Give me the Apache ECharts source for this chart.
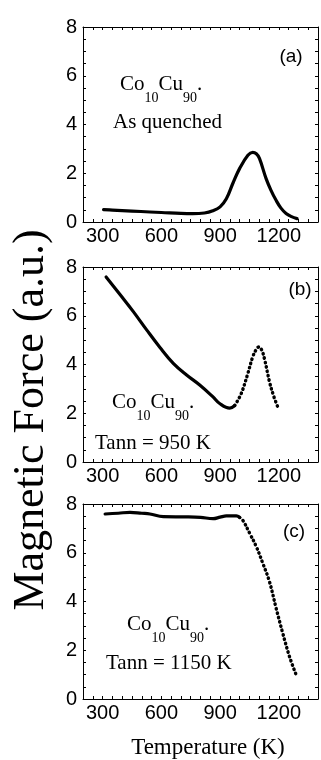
<!DOCTYPE html>
<html>
<head>
<meta charset="utf-8">
<script src="https://cdn.jsdelivr.net/npm/echarts@6/dist/echarts.min.js"></script>
<style>
html,body{margin:0;padding:0;background:#fff;}
#chart{width:321px;height:760px;}
</style>
</head>
<body>
<div id="chart"></div>
<script>
// ---- data (Temperature K, Magnetic Force a.u.) ----
const xTickLabels = [300, 600, 900, 1200];
const yTickLabels = [0, 2, 4, 6, 8];

const panelA_solid = [[305,0.51],[350,0.49],[450,0.45],[542,0.41],[600,0.39],[700,0.35],[760,0.34],[820,0.37],[863,0.46],[900,0.62],[932,0.95],[966,1.6],[1000,2.2],[1042,2.74],[1067,2.86],[1085,2.80],[1101,2.61],[1135,1.78],[1160,1.3],[1186,0.89],[1210,0.58],[1237,0.35],[1265,0.22],[1293,0.14]];

const panelB_solid = [[318,7.59],[390,6.86],[457,6.17],[525,5.42],[593,4.70],[661,4.05],[729,3.57],[796,3.16],[864,2.67],[898,2.40],[949,2.21],[975,2.32]];
const panelB_dotted = [[975,2.32],[1008,2.81],[1042,3.64],[1067,4.32],[1085,4.62],[1098,4.72],[1112,4.6],[1127,4.22],[1152,3.3],[1173,2.72],[1193,2.29]];

const panelC_solid = [[313,7.59],[380,7.62],[440,7.66],[500,7.62],[542,7.59],[610,7.48],[729,7.47],[800,7.45],[864,7.40],[900,7.46],[932,7.51],[983,7.51],[1000,7.45]];
const panelC_dotted = [[1000,7.45],[1017,7.32],[1051,6.80],[1085,6.25],[1118,5.57],[1152,4.82],[1186,3.73],[1220,2.70],[1254,1.75],[1288,1.00]];

const panelLabels = ['(a)', '(b)', '(c)'];
const xTitle = 'Temperature (K)';
const yTitle = 'Magnetic Force (a.u.)';

// ---- chart ----
const chart = echarts.init(document.getElementById('chart'), null, {renderer:'canvas'});
const SANS = 'Liberation Sans, Arial, sans-serif';
const SERIF = 'Liberation Serif, Times New Roman, serif';
const tops = [27, 267, 504];
const grids = tops.map(t => ({left:83, width:236, top:t, height:195}));

const xAxis = [], yAxis = [];
grids.forEach((g, i) => {
  xAxis.push({
    type:'value', gridIndex:i, position:'bottom', min:200, max:1400, interval:50,
    axisLine:{show:true, onZero:false, lineStyle:{color:'#000', width:1}},
    axisTick:{show:true, inside:true, length:3, lineStyle:{color:'#000'}},
    axisLabel:{show:true, margin:4, color:'#000', fontFamily:SANS, fontSize:20,
      formatter: v => xTickLabels.includes(v) ? String(v) : ''},
    splitLine:{show:false}
  });
  xAxis.push({
    type:'value', gridIndex:i, position:'top', min:200, max:1400, interval:50,
    axisLine:{show:true, onZero:false, lineStyle:{color:'#000', width:1}},
    axisTick:{show:true, inside:true, length:3, lineStyle:{color:'#000'}},
    axisLabel:{show:false}, splitLine:{show:false}
  });
  yAxis.push({
    type:'value', gridIndex:i, position:'left', min:0, max:8, interval:0.5,
    axisLine:{show:true, onZero:false, lineStyle:{color:'#000', width:1}},
    axisTick:{show:true, inside:true, length:3, lineStyle:{color:'#000'}},
    axisLabel:{show:true, margin:6, color:'#000', fontFamily:SANS, fontSize:20,
      formatter: v => yTickLabels.includes(v) ? String(v) : ''},
    splitLine:{show:false}
  });
  yAxis.push({
    type:'value', gridIndex:i, position:'right', min:0, max:8, interval:0.5,
    axisLine:{show:true, onZero:false, lineStyle:{color:'#000', width:1}},
    axisTick:{show:true, inside:true, length:3, lineStyle:{color:'#000'}},
    axisLabel:{show:false}, splitLine:{show:false}
  });
});

function solid(data, i) {
  return {type:'line', xAxisIndex:2*i, yAxisIndex:2*i, data, smooth:0.4, showSymbol:false,
    symbol:'none', lineStyle:{color:'#000', width:3.2, cap:'round', join:'round'}, z:3, silent:true};
}
function dotted(data, i) {
  return {type:'line', xAxisIndex:2*i, yAxisIndex:2*i, data, smooth:0.4, showSymbol:false,
    symbol:'none', lineStyle:{color:'#000', width:3.4, type:[0.5,4], cap:'round'}, z:3, silent:true};
}

const series = [
  solid(panelA_solid, 0),
  solid(panelB_solid, 1), dotted(panelB_dotted, 1),
  solid(panelC_solid, 2), dotted(panelC_dotted, 2)
];

const rich = {
  n:{fontFamily:SERIF, fontSize:21, lineHeight:31, verticalAlign:'top', color:'#000'},
  s:{fontFamily:SERIF, fontSize:14, lineHeight:31, verticalAlign:'bottom', color:'#000'}
};
const formula = '{n|Co}{s|10}{n|Cu}{s|90}{n|.}';
function ftext(x, y) {
  return {type:'text', left:x, top:y, z:10, style:{text:formula, rich, fill:'#000'}};
}
function ptext(x, y, t, font, size) {
  return {type:'text', x, y, z:10, style:{text:t, fontFamily:font, fontSize:size, fill:'#000',
    textAlign:'left', textVerticalAlign:'middle'}};
}

const graphic = [
  ftext(120, 74),
  ptext(113, 122, 'As quenched', SERIF, 21),
  ftext(112, 392),
  ptext(95, 443, 'Tann = 950 K', SERIF, 21),
  ftext(127, 614),
  ptext(106, 663, 'Tann = 1150 K', SERIF, 21),
  {type:'text', x:291, y:57, z:10, style:{text:panelLabels[0], fontFamily:SANS, fontSize:19, fill:'#000', textAlign:'center', textVerticalAlign:'middle'}},
  {type:'text', x:300, y:290, z:10, style:{text:panelLabels[1], fontFamily:SANS, fontSize:19, fill:'#000', textAlign:'center', textVerticalAlign:'middle'}},
  {type:'text', x:294, y:532, z:10, style:{text:panelLabels[2], fontFamily:SANS, fontSize:19, fill:'#000', textAlign:'center', textVerticalAlign:'middle'}},
  {type:'text', x:208, y:748, z:10, style:{text:xTitle, fontFamily:SERIF, fontSize:23, fill:'#000', textAlign:'center', textVerticalAlign:'middle'}},
  {type:'text', x:31, y:420, rotation:Math.PI/2, z:10, style:{text:yTitle, fontFamily:SERIF, fontSize:44, fill:'#000', textAlign:'center', textVerticalAlign:'middle'}}
];

chart.setOption({
  animation:false,
  backgroundColor:'#fff',
  grid:grids, xAxis, yAxis, series, graphic
});
</script>
</body>
</html>
